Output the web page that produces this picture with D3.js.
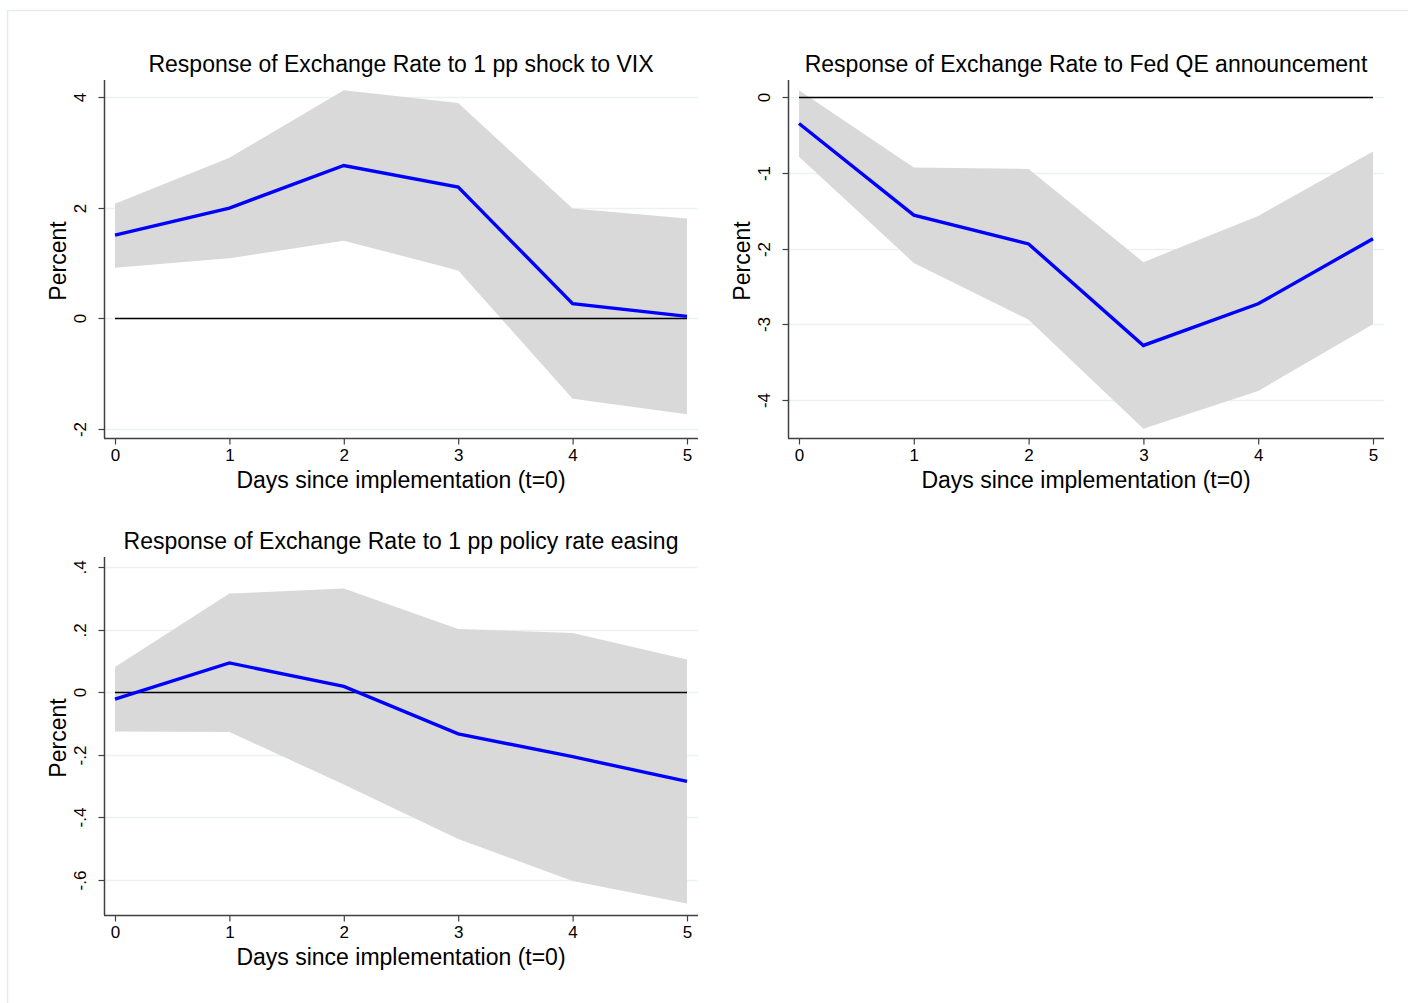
<!DOCTYPE html>
<html>
<head>
<meta charset="utf-8">
<script src="https://cdn.jsdelivr.net/npm/d3@7"></script>
<style>
  html, body { margin: 0; padding: 0; background: #ffffff; }
  svg { display: block; font-family: "Liberation Sans", Arial, sans-serif; }
</style>
</head>
<body>
<svg id="chart" width="1408" height="1003"></svg>
<script>
// Horizon (days since implementation) shared by every panel
const days = [0, 1, 2, 3, 4, 5];
const dayTicks = [0, 1, 2, 3, 4, 5];

// Panel 1: 1 pp shock to VIX
const vixTitle = "Response of Exchange Rate to 1 pp shock to VIX";
const vixPoint = [1.50, 1.99, 2.76, 2.37, 0.26, 0.03];
const vixUpper = [2.07, 2.90, 4.12, 3.89, 1.98, 1.80];
const vixLower = [0.91, 1.08, 1.40, 0.86, -1.46, -1.74];
const vixTicks = [-2, 0, 2, 4];

// Panel 2: Fed QE announcement
const qeTitle = "Response of Exchange Rate to Fed QE announcement";
const qePoint = [-0.35, -1.56, -1.94, -3.28, -2.73, -1.87];
const qeUpper = [0.09, -0.93, -0.95, -2.18, -1.57, -0.72];
const qeLower = [-0.79, -2.19, -2.94, -4.38, -3.88, -3.00];
const qeTicks = [-4, -3, -2, -1, 0];

// Panel 3: 1 pp policy rate easing
const easeTitle = "Response of Exchange Rate to 1 pp policy rate easing";
const easePoint = [-0.023, 0.093, 0.018, -0.134, -0.207, -0.286];
const easeUpper = [0.080, 0.315, 0.331, 0.202, 0.189, 0.104];
const easeLower = [-0.126, -0.128, -0.296, -0.470, -0.605, -0.677];
const easeTicks = [-0.6, -0.4, -0.2, 0, 0.2, 0.4];

const xTitle = "Days since implementation (t=0)";
const yTitle = "Percent";

const svg = d3.select("#chart");

// light frame around the graph area
svg.append("path")
  .attr("d", "M7.5,1003 V10.5 H1408")
  .attr("fill", "none")
  .attr("stroke", "#e4ecee")
  .attr("stroke-width", 1.5);

// tick labels: plain hyphen for negatives, no leading zero on decimals
const fmtTick = v => {
  const s = String(+v.toFixed(4));
  return s.replace(/^(-?)0\./, "$1.");
};

const tickFont = 17;
const titleFont = 23;

function panel(cfg) {
  const g = svg.append("g");
  const x = d3.scaleLinear().domain([0, 5]).range([cfg.x0, cfg.x1]);
  const y = d3.scaleLinear().domain([cfg.v0, cfg.v1]).range([cfg.y0, cfg.y1]);
  const left = cfg.x0 - 11, right = cfg.x1 + 11;
  const top = cfg.plotTop, bottom = cfg.plotBottom;

  // grid lines
  g.append("g").selectAll("line").data(cfg.ticks).join("line")
    .attr("x1", left).attr("x2", right)
    .attr("y1", d => Math.round(y(d)) + 0.5).attr("y2", d => Math.round(y(d)) + 0.5)
    .attr("stroke", "#eaf2f3").attr("stroke-width", 1.5);

  // confidence band
  const band = d3.area()
    .x((d, i) => x(days[i]))
    .y0((d, i) => y(cfg.lower[i]))
    .y1((d, i) => y(cfg.upper[i]));
  g.append("path").datum(days).attr("d", band).attr("fill", "#d9d9d9");

  // zero reference line
  const y0px = Math.round(y(0)) + 0.5;
  g.append("line")
    .attr("x1", x(0)).attr("x2", x(5))
    .attr("y1", y0px).attr("y2", y0px)
    .attr("stroke", "#000").attr("stroke-width", 1.3);

  // point estimate
  const line = d3.line().x((d, i) => x(days[i])).y((d, i) => y(cfg.point[i]));
  g.append("path").datum(days).attr("d", line)
    .attr("fill", "none").attr("stroke", "#0000ff")
    .attr("stroke-width", 3.4).attr("stroke-linejoin", "miter");

  // y axis
  const ya = d3.axisLeft(y).tickValues(cfg.ticks).tickSize(6).tickFormat(fmtTick);
  const yg = g.append("g").attr("transform", `translate(${left + 0.5},0)`).call(ya);
  yg.attr("font-size", null).attr("font-family", null);
  yg.select(".domain").remove();
  yg.append("line").attr("x1", 0).attr("x2", 0).attr("y1", top).attr("y2", bottom)
    .attr("stroke", "#404040").attr("stroke-width", 1.5);
  yg.selectAll(".tick").attr("transform", d => `translate(0,${Math.round(y(d)) + 0.5})`);
  yg.selectAll(".tick line").attr("stroke", "#404040").attr("stroke-width", 1.2);
  yg.selectAll(".tick text")
    .attr("x", null).attr("y", null).attr("dy", null)
    .attr("transform", "translate(-24,0) rotate(-90)")
    .attr("text-anchor", "middle")
    .attr("dominant-baseline", "central")
    .style("font-size", tickFont + "px").attr("fill", "#000");

  // x axis
  const xa = d3.axisBottom(x).tickValues(dayTicks).tickSize(6).tickFormat(d3.format("d"));
  const xg = g.append("g").attr("transform", `translate(0,${bottom + 0.5})`).call(xa);
  xg.attr("font-size", null).attr("font-family", null);
  xg.select(".domain").remove();
  xg.append("line").attr("x1", left).attr("x2", right).attr("y1", 0).attr("y2", 0)
    .attr("stroke", "#404040").attr("stroke-width", 1.5);
  xg.selectAll(".tick line").attr("stroke", "#404040").attr("stroke-width", 1.2);
  xg.selectAll(".tick text").attr("y", 10).attr("dy", "0.71em")
    .style("font-size", tickFont + "px").attr("fill", "#000");

  // titles
  const cx = (left + right) / 2;
  g.append("text").attr("x", cx).attr("y", top - 8)
    .attr("text-anchor", "middle").style("font-size", titleFont + "px").attr("fill", "#000")
    .text(cfg.title);
  g.append("text").attr("x", cx).attr("y", bottom + 50)
    .attr("text-anchor", "middle").style("font-size", titleFont + "px").attr("fill", "#000")
    .text(xTitle);
  g.append("text")
    .attr("transform", `translate(${left - 38},${(top + bottom) / 2 + 2}) rotate(-90)`)
    .attr("text-anchor", "middle").style("font-size", titleFont + "px").attr("fill", "#000")
    .text(yTitle);
}

panel({
  title: vixTitle, point: vixPoint, upper: vixUpper, lower: vixLower, ticks: vixTicks,
  x0: 115, x1: 687, v0: 0, v1: 4, y0: 318, y1: 97, plotTop: 80, plotBottom: 438
});
panel({
  title: qeTitle, point: qePoint, upper: qeUpper, lower: qeLower, ticks: qeTicks,
  x0: 799, x1: 1373, v0: 0, v1: -4, y0: 97, y1: 400, plotTop: 80, plotBottom: 438
});
panel({
  title: easeTitle, point: easePoint, upper: easeUpper, lower: easeLower, ticks: easeTicks,
  x0: 115, x1: 687, v0: 0, v1: 0.4, y0: 692, y1: 567, plotTop: 557, plotBottom: 915
});
</script>
</body>
</html>
